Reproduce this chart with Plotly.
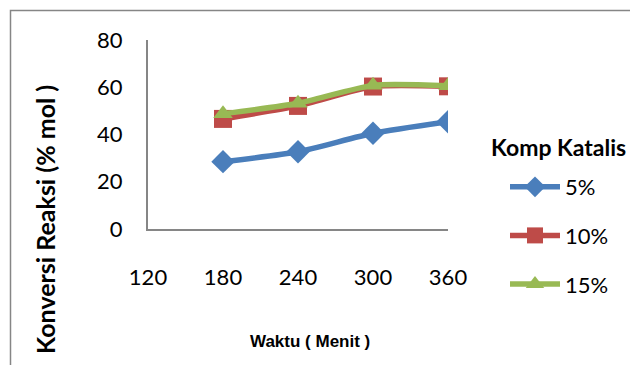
import plotly.graph_objects as go

# Reaction time (minutes) and conversion (% mol) for each catalyst loading
waktu = [180, 240, 300, 360]
series_names = ["5%", "10%", "15%"]
konversi_5 = [28.5, 32.7, 40.5, 45.4]
konversi_10 = [46.6, 52.1, 60.3, 60.4]
konversi_15 = [48.8, 53.2, 60.8, 60.6]

x_ticks = [120, 180, 240, 300, 360]
y_ticks = [0, 20, 40, 60, 80]

colors = ["#4A7EBB", "#BE4B48", "#98B954"]
symbols = ["diamond", "square", "triangle-up"]
sizes = [18, 18, 17]

W, H = 630, 365
L, R, T, B = 148, 182, 40, 136
pw, ph = W - L - R, H - T - B

def px_x(px):
    return (px - L) / pw

def px_y(py):
    return (H - B - py) / ph

fig = go.Figure()
for name, vals, c, s, sz in zip(series_names, [konversi_5, konversi_10, konversi_15], colors, symbols, sizes):
    fig.add_trace(go.Scatter(
        x=waktu, y=vals, name=name, legendgroup=name,
        mode="lines+markers",
        line=dict(color=c, width=5.5, shape="spline", smoothing=0.6),
        marker=dict(symbol=s, size=sz, color=c),
    ))

font_main = "Lato, Noto Sans, sans-serif"

fig.update_layout(
    width=W, height=H,
    margin=dict(l=L, r=R, t=T, b=B),
    paper_bgcolor="white", plot_bgcolor="white",
    font=dict(family=font_main, size=22, color="#000000"),
    showlegend=True,
    legend=dict(
        x=px_x(505), y=px_y(166), xanchor="left", yanchor="top",
        font=dict(size=22, family=font_main),
        tracegroupgap=17, itemwidth=50,
        bgcolor="rgba(0,0,0,0)",
    ),
    xaxis=dict(
        range=[120, 360], tickvals=x_ticks, ticktext=[str(v) for v in x_ticks],
        showgrid=False, zeroline=False, showline=True, linecolor="#868686", linewidth=2,
        ticks="", ticklabelstandoff=28,
    ),
    yaxis=dict(
        range=[0, 80], tickvals=y_ticks, ticktext=[str(v) for v in y_ticks],
        showgrid=False, zeroline=False, showline=True, linecolor="#868686", linewidth=2,
        ticks="", ticklabelstandoff=19,
    ),
    annotations=[
        dict(
            text="<b>Konversi Reaksi (% mol )</b>", textangle=-90,
            xref="paper", yref="paper", x=px_x(45), y=px_y(220),
            xanchor="center", yanchor="middle", showarrow=False,
            font=dict(size=25, family=font_main),
        ),
        dict(
            text="<b>Waktu ( Menit )</b>",
            xref="paper", yref="paper", x=px_x(310), y=px_y(341),
            xanchor="center", yanchor="middle", showarrow=False,
            font=dict(size=17, family="Liberation Sans, Arial, sans-serif"),
        ),
        dict(
            text="<b>Komp Katalis</b>",
            xref="paper", yref="paper", x=px_x(489), y=px_y(147),
            xanchor="left", yanchor="middle", showarrow=False,
            font=dict(size=23, family=font_main),
        ),
    ],
    shapes=[dict(
        type="rect", xref="paper", yref="paper",
        x0=px_x(10.5), y0=px_y(H + 20), x1=px_x(W + 20), y1=px_y(10.5),
        line=dict(color="#868686", width=1.5), layer="below",
    )],
)

fig.write_html("out.html")
